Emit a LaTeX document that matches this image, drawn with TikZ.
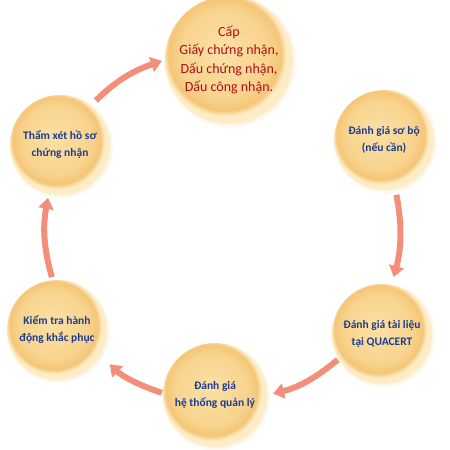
\documentclass[tikz,border=0pt]{standalone}
\usepackage{fontspec}
\setmainfont{Carlito}
\usetikzlibrary{arrows.meta,shadows}

\definecolor{ballin}{RGB}{251,224,165}
\definecolor{ballmid}{RGB}{248,212,142}
\definecolor{ballout}{RGB}{244,198,120}
\definecolor{ballrim}{RGB}{253,236,196}
\definecolor{textblau}{RGB}{28,60,145}
\definecolor{textrot}{RGB}{175,14,24}
\definecolor{pfeilrot}{RGB}{242,142,122}

% Farbverlauf der Kugeln
\pgfdeclareradialshading{kugel}{\pgfpoint{-3bp}{4bp}}{color(0bp)=(ballin); color(17bp)=(ballmid); color(22bp)=(ballout); color(24bp)=(ballrim); color(25bp)=(ballrim); color(50bp)=(white)}

\begin{document}
\begin{tikzpicture}[x=1pt, y=1pt,
    >={Triangle[width=15pt,length=11pt]},   %Voreinstellung für Pfeilspitzen
    stufe/.style={circle, minimum size=#1, inner sep=0pt, shading=kugel,
      circular drop shadow={shadow xshift=1pt, shadow yshift=-1pt, shadow scale=1.05, fill=ballout, opacity=.4},
      text=textblau, align=center, font=\bfseries\fontsize{11.5}{17}\selectfont},
    pfeil/.style={->, line width=6pt, draw=pfeilrot, bend left=13}]
    \useasboundingbox (0,0) rectangle (450,450);
    % Kugeln
    \node[stufe=128, text=textrot, font=\fontsize{14}{18.5}\selectfont] (zert) at (229,390)
      {Cấp\\Giấy chứng nhận,\\Dấu chứng nhận,\\Dấu công nhận.};
    \node[stufe=100] (vorab) at (384,310) {Đánh giá sơ bộ\\(nếu cần)};
    \node[stufe=100] (doku) at (382,116) {Đánh giá tài liệu\\tại QUACERT};
    \node[stufe=104] (system) at (215,55) {Đánh giá\\hệ thống quản lý};
    \node[stufe=100] (massnahme) at (57,120) {Kiểm tra hành\\động khắc phục};
    \node[stufe=100] (pruefung) at (60,305) {Thẩm xét hồ sơ\\chứng nhận};
    % Pfeile
    \draw[pfeil, shorten <=7pt, shorten >=3pt] (pruefung.52) to (zert.180);
    \draw[pfeil, shorten <=6pt, shorten >=8pt] (vorab.-77) to (doku.79);
    \draw[pfeil, shorten <=1pt, shorten >=6pt] (doku.210) to (system.0);
    \draw[pfeil, shorten <=1pt, shorten >=13pt] (system.178) to (massnahme.-30);
    \draw[pfeil, shorten <=3pt, shorten >=4pt] (massnahme.95) to (pruefung.257);
\end{tikzpicture}
\end{document}
